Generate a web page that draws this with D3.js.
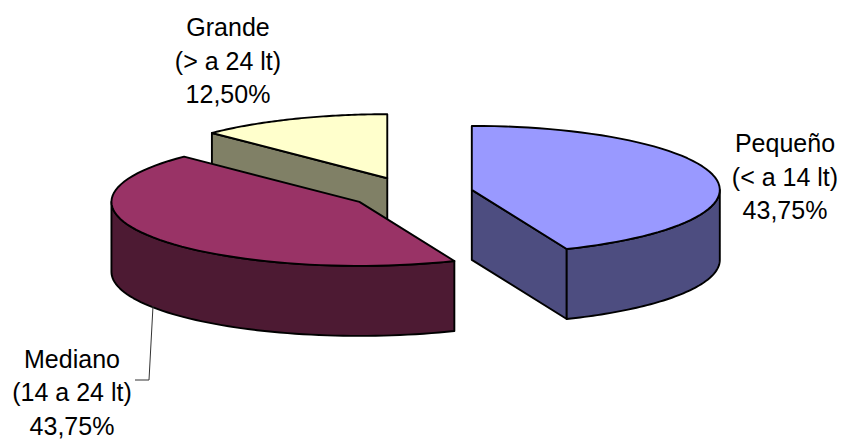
<!DOCTYPE html>
<html><head><meta charset="utf-8">
<script src="https://cdnjs.cloudflare.com/ajax/libs/d3/7.8.5/d3.min.js"></script>
<style>html,body{margin:0;padding:0;background:#fff}svg{display:block}text{font-family:"Liberation Sans",Arial,sans-serif;font-size:25px;fill:#000}</style>
</head><body><svg id="c" width="842" height="440"></svg>
<script>
const categories = ["Pequeño", "Mediano", "Grande"];
const sizeRanges = ["(< a 14 lt)", "(14 a 24 lt)", "(> a 24 lt)"];
const shares = [43.75, 43.75, 12.5];
const shareLabels = ["43,75%", "43,75%", "12,50%"];
const topColors = ["#9999FF", "#993366", "#FFFFCC"];
const sideColors = ["#4D4D80", "#4D1A33", "#808066"];

const W = { cx: 411, cy: 193, rx: 248, ry: 64, depth: 70, explode: 0.25 };
const labelPos = [[785, 152], [72, 367.5], [228, 36]];
const lineStep = 33.5;

const svg = d3.select("#c");
const pie = d3.pie().sort(null).value(d => d)(shares);
const deg = Math.PI / 180;
const pt = (s, a, r = 1, dz = 0) => [s.x + r * W.rx * Math.sin(a), s.y - r * W.ry * Math.cos(a) + dz];
const line = d3.line();
const samples = (a, b) => d3.range(0, 61).map(i => a + (b - a) * i / 60);

const slices = pie.map((p, i) => {
  const mid = (p.startAngle + p.endAngle) / 2;
  return { i, a0: p.startAngle, a1: p.endAngle,
    x: W.cx + W.explode * W.rx * Math.sin(mid),
    y: W.cy - W.explode * W.ry * Math.cos(mid) };
}).sort((a, b) => a.y - b.y);

const g = svg.append("g").attr("stroke", "#000").attr("stroke-width", 1.9).attr("stroke-linejoin", "round");
slices.forEach(s => {
  const apex = [s.x, s.y], apexB = [s.x, s.y + W.depth];
  const face = a => [apex, pt(s, a), pt(s, a, 1, W.depth), apexB];
  // radial faces turned towards the viewer
  if (Math.sin(s.a0) < -1e-6) g.append("path").attr("d", line(face(s.a0)) + "Z").attr("fill", sideColors[s.i]);
  if (Math.sin(s.a1) > 1e-6) g.append("path").attr("d", line(face(s.a1)) + "Z").attr("fill", sideColors[s.i]);
  // outer wall
  const w0 = Math.max(s.a0, 90 * deg), w1 = Math.min(s.a1, 270 * deg);
  if (w1 > w0) {
    const upper = samples(w0, w1).map(a => pt(s, a));
    const lower = samples(w1, w0).map(a => pt(s, a, 1, W.depth));
    g.append("path").attr("d", line(upper.concat(lower)) + "Z").attr("fill", sideColors[s.i]);
  }
  // top
  const rim = samples(s.a0, s.a1).map(a => pt(s, a));
  g.append("path").attr("d", line([apex].concat(rim)) + "Z").attr("fill", topColors[s.i]);
});

// leader line for the Mediano label
svg.append("path").attr("d", line([[153, 306], [149, 380], [135, 380]]))
  .attr("fill", "none").attr("stroke", "#333").attr("stroke-width", 1);

categories.forEach((c, i) => {
  const t = svg.append("text").attr("text-anchor", "middle");
  [c, sizeRanges[i], shareLabels[i]].forEach((l, k) => {
    t.append("tspan").attr("x", labelPos[i][0]).attr("y", labelPos[i][1] + k * lineStep).text(l);
  });
});
</script></body></html>
